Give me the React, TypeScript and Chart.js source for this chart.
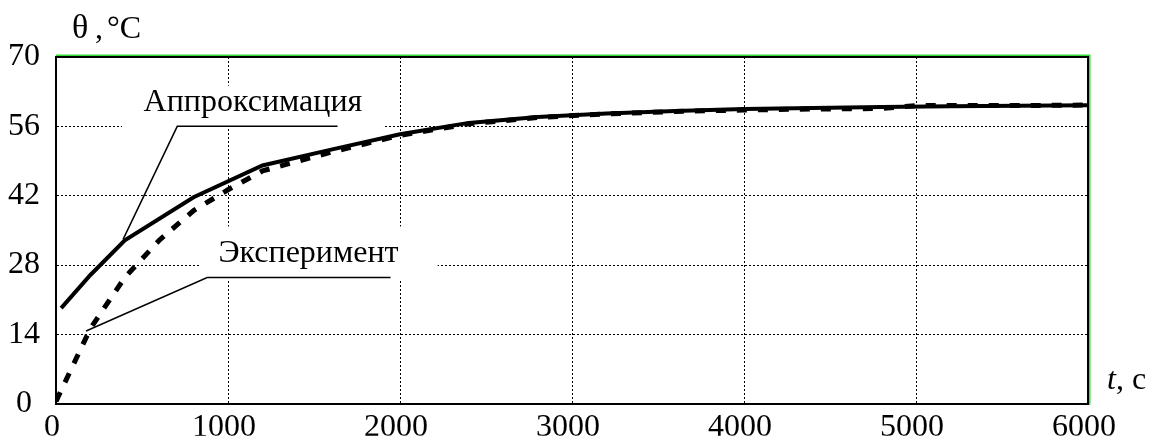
import React, { useEffect, useRef } from "react";
import { Chart, registerables } from "chart.js";

Chart.register(...registerables);

// ---- data ----
const approxT = [30, 200, 400, 800, 1200, 1600, 2000, 2400, 2800, 3200, 3600, 4000, 4400, 4800, 5200, 5600, 6000];
const approxTheta = [19.3, 26, 33, 41.7, 48.1, 51.3, 54.4, 56.7, 57.9, 58.6, 59.1, 59.5, 59.7, 59.9, 60.05, 60.15, 60.25];

const expT = [0, 200, 400, 600, 800, 1000, 1200, 1600, 2000, 2400, 2800, 3200, 3600, 4000, 4400, 4800, 5000, 5600, 6000];
const expTheta = [0.5, 15.2, 25.5, 33, 39, 43.2, 47, 50.8, 54.2, 56.5, 57.8, 58.5, 59.0, 59.3, 59.5, 59.6, 60.2, 60.2, 60.3];

const xTicks = [0, 1000, 2000, 3000, 4000, 5000, 6000];
const yTicks = [0, 14, 28, 42, 56, 70];

const yTitleSymbol = "θ";
const yTitleRest = [",", "°C"];
const xTitleItalic = "t";
const xTitleRest = ", с";

// annotations in data coordinates
const annotations = [
  {
    text: "Аппроксимация",
    textAt: [1145, 60.8],
    box: [384, 1904, 55.5, 64.2],
    leader: [
      [390, 33.2],
      [705, 56],
      [1637, 56],
    ],
  },
  {
    text: "Эксперимент",
    textAt: [1468, 30.4],
    box: [839, 2219, 25.2, 35.8],
    leader: [
      [175, 14.7],
      [879, 25.5],
      [1945, 25.5],
    ],
  },
];

const FONT = "'Liberation Serif', 'Times New Roman', serif";
const FS = 32;

const decorPlugin = {
  id: "decor",
  beforeDatasetsDraw(chart: any) {
    const { ctx, scales } = chart;
    const xs = scales.x;
    const ys = scales.y;
    ctx.save();
    for (const a of annotations) {
      const [t0, t1, v0, v1] = a.box;
      const bx0 = xs.getPixelForValue(t0);
      const bx1 = xs.getPixelForValue(t1);
      const by0 = ys.getPixelForValue(v1);
      const by1 = ys.getPixelForValue(v0);
      ctx.fillStyle = "#fff";
      ctx.fillRect(bx0, by0, bx1 - bx0, by1 - by0);
      ctx.strokeStyle = "#000";
      ctx.lineWidth = 1.5;
      ctx.setLineDash([]);
      ctx.beginPath();
      a.leader.forEach((p, i) => {
        const px = xs.getPixelForValue(p[0]);
        const py = ys.getPixelForValue(p[1]);
        if (i === 0) ctx.moveTo(px, py);
        else ctx.lineTo(px, py);
      });
      ctx.stroke();
      ctx.fillStyle = "#000";
      ctx.font = `${FS}px ${FONT}`;
      ctx.textAlign = "center";
      ctx.textBaseline = "middle";
      ctx.fillText(a.text, xs.getPixelForValue(a.textAt[0]), ys.getPixelForValue(a.textAt[1]));
    }
    ctx.restore();
  },
  afterDraw(chart: any) {
    const { ctx, chartArea } = chart;
    const { left, right, top, bottom } = chartArea;
    ctx.save();
    ctx.setLineDash([]);
    // black frame top & right
    ctx.strokeStyle = "#000";
    ctx.lineWidth = 2;
    ctx.beginPath();
    ctx.moveTo(left, top);
    ctx.lineTo(right, top);
    ctx.lineTo(right, bottom);
    ctx.stroke();
    // green shadow lines
    ctx.strokeStyle = "#33dd33";
    ctx.lineWidth = 1.5;
    ctx.beginPath();
    ctx.moveTo(left, top - 1.75);
    ctx.lineTo(right + 1.75, top - 1.75);
    ctx.lineTo(right + 1.75, bottom + 1);
    ctx.stroke();
    // y axis title
    ctx.fillStyle = "#000";
    ctx.textBaseline = "alphabetic";
    ctx.textAlign = "left";
    const by = top - 19;
    ctx.font = `34px ${FONT}`;
    ctx.fillText(yTitleSymbol, left + 16, by);
    ctx.font = `${FS}px ${FONT}`;
    ctx.fillText(yTitleRest[0], left + 39, by);
    ctx.fillText(yTitleRest[1], left + 51, by);
    // x axis title
    ctx.font = `italic ${FS}px ${FONT}`;
    const tx = right + 19;
    const ty = bottom - 15;
    ctx.fillText(xTitleItalic, tx, ty);
    const w = ctx.measureText(xTitleItalic).width;
    ctx.font = `${FS}px ${FONT}`;
    ctx.fillText(xTitleRest, tx + w, ty);
    ctx.restore();
  },
};

export default function App() {
  const ref = useRef<HTMLCanvasElement>(null);
  useEffect(() => {
    if (!ref.current) return;
    const chart = new Chart(ref.current, {
      type: "line",
      data: {
        datasets: [
          {
            label: "Эксперимент",
            data: expT.map((t, i) => ({ x: t, y: expTheta[i] })),
            borderColor: "#000",
            borderWidth: 5,
            borderDash: [10, 11],
            pointRadius: 0,
            tension: 0,
            fill: false,
          },
          {
            label: "Аппроксимация",
            data: approxT.map((t, i) => ({ x: t, y: approxTheta[i] })),
            borderColor: "#000",
            borderWidth: 4,
            pointRadius: 0,
            tension: 0,
            fill: false,
          },
        ],
      },
      options: {
        animation: false,
        responsive: true,
        maintainAspectRatio: false,
        layout: { padding: { left: 0, top: 57, right: 72, bottom: 0 } },
        plugins: {
          legend: { display: false },
          tooltip: { enabled: false },
          title: { display: false },
        },
        scales: {
          x: {
            type: "linear",
            min: 0,
            max: 6000,
            afterFit: (s: any) => {
              s.height = 32;
            },
            afterBuildTicks: (s: any) => {
              s.ticks = xTicks.map((v) => ({ value: v }));
            },
            ticks: {
              color: "#000",
              font: { family: FONT, size: FS },
              padding: 5,
              maxRotation: 0,
              autoSkip: false,
              labelOffset: -4,
              callback: (v: any) => String(v),
            },
            grid: { color: "#000", lineWidth: 1, drawTicks: false },
            border: { display: true, color: "#000", width: 2, dash: [2, 2] },
          },
          y: {
            type: "linear",
            min: 0,
            max: 70,
            afterFit: (s: any) => {
              s.width = 56;
            },
            afterBuildTicks: (s: any) => {
              s.ticks = yTicks.map((v) => ({ value: v }));
            },
            ticks: {
              color: "#000",
              font: { family: FONT, size: FS },
              padding: 16,
              crossAlign: "center",
              autoSkip: false,
              callback: (v: any) => String(v),
            },
            grid: { color: "#000", lineWidth: 1, drawTicks: false },
            border: { display: true, color: "#000", width: 2, dash: [2, 2] },
          },
        },
      },
      plugins: [decorPlugin],
    });
    return () => chart.destroy();
  }, []);
  return (
    <div style={{ position: "fixed", left: 0, top: 0, width: 1160, height: 439, background: "#fff" }}>
      <canvas ref={ref} />
    </div>
  );
}
